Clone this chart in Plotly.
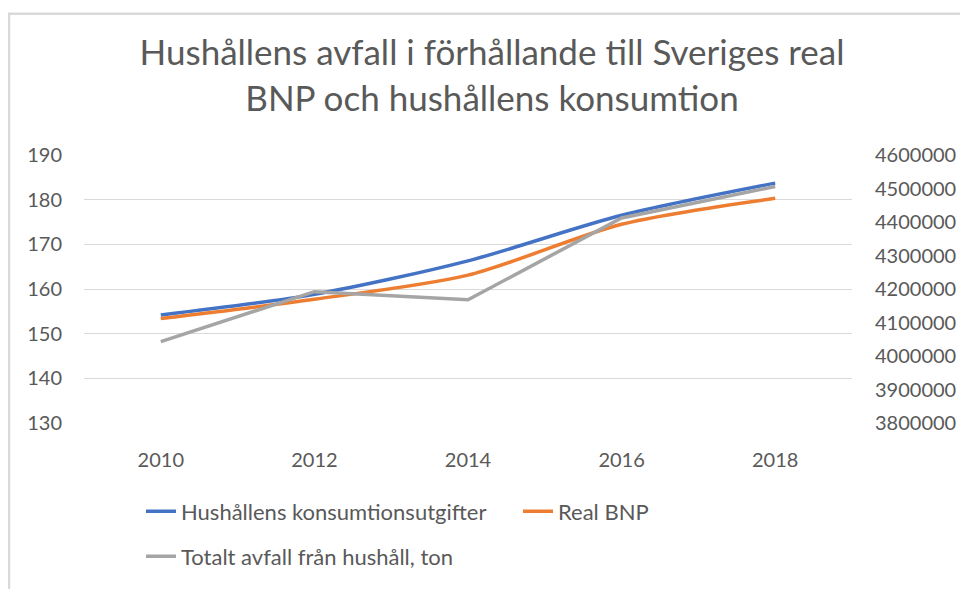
import plotly.graph_objects as go

years = ["2010", "2012", "2014", "2016", "2018"]
konsumtion = [154.2, 158.8, 166.3, 176.5, 183.7]
real_bnp = [153.4, 157.7, 163.1, 174.5, 180.3]
avfall = [4043000, 4192000, 4168000, 4412000, 4506000]

left_ticks = [130, 140, 150, 160, 170, 180, 190]
right_ticks = [3800000, 3900000, 4000000, 4100000, 4200000, 4300000, 4400000, 4500000, 4600000]

OFF = 8  # page body margin
W, H = 968 - OFF, 589 - OFF
L = 84 - OFF
T = 155 - OFF
R = W - (852 - OFF)
B = H - (428 - OFF)
pw, ph = W - L - R, H - T - B

FONT = "Lato"
TXT = "#595959"
GRID = "#d9d9d9"


def px_x(p):
    return (p - OFF - L) / pw


def px_y(p):
    return (H - B - (p - OFF)) / ph


fig = go.Figure()
fig.add_trace(go.Scatter(x=years, y=konsumtion, name="Hushållens konsumtionsutgifter",
                         mode="lines", line=dict(color="#4472C4", width=3.5, shape="spline", smoothing=0.8),
                         legend="legend"))
fig.add_trace(go.Scatter(x=years, y=real_bnp, name="Real BNP",
                         mode="lines", line=dict(color="#ED7D31", width=3.5, shape="spline", smoothing=0.8),
                         legend="legend"))
fig.add_trace(go.Scatter(x=years, y=avfall, name="Totalt avfall från hushåll, ton",
                         mode="lines", line=dict(color="#A5A5A5", width=3.5),
                         yaxis="y2", legend="legend2"))

fig.update_layout(
    width=W, height=H,
    margin=dict(l=L, r=R, t=T, b=B),
    paper_bgcolor="white", plot_bgcolor="white",
    font=dict(family=FONT, color=TXT, size=20),
    title=dict(text="Hushållens avfall i förhållande till Sveriges real<br>BNP och hushållens konsumtion",
               x=(492 - OFF) / W, xanchor="center", y=1 - 57 / H, yanchor="top", xref="container",
               font=dict(family=FONT, size=35, color=TXT)),
    xaxis=dict(type="category", range=[-0.5, 4.5], showgrid=False, showline=False,
               ticks="", tickfont=dict(size=20, color=TXT), ticklabelstandoff=23),
    yaxis=dict(range=[130, 190], tickvals=left_ticks, showgrid=True, gridcolor=GRID, gridwidth=1.3,
               zeroline=False, showline=False, ticks="", tickfont=dict(size=20, color=TXT),
               ticklabelstandoff=21),
    yaxis2=dict(range=[3800000, 4600000], tickvals=right_ticks, overlaying="y", side="right",
                showgrid=False, zeroline=False, showline=False, ticks="", tickformat="d",
                tickfont=dict(size=20, color=TXT), ticklabelstandoff=22),
    legend=dict(orientation="h", x=px_x(141), y=px_y(518), xanchor="left", yanchor="middle",
                font=dict(size=22, color=TXT), itemwidth=30, entrywidth=332, entrywidthmode="pixels",
                bgcolor="rgba(0,0,0,0)"),
    legend2=dict(orientation="h", x=px_x(141), y=px_y(564), xanchor="left", yanchor="middle",
                 font=dict(size=22, color=TXT), itemwidth=30, bgcolor="rgba(0,0,0,0)"),
    showlegend=True,
    shapes=[
        dict(type="line", xref="paper", yref="paper", x0=px_x(9), x1=px_x(9), y0=px_y(11), y1=px_y(600),
             line=dict(color=GRID, width=2.5)),
        dict(type="line", xref="paper", yref="paper", x0=px_x(8), x1=px_x(1000), y0=px_y(11), y1=px_y(11),
             line=dict(color=GRID, width=2.5)),
    ],
)

fig.write_html("out.html")
